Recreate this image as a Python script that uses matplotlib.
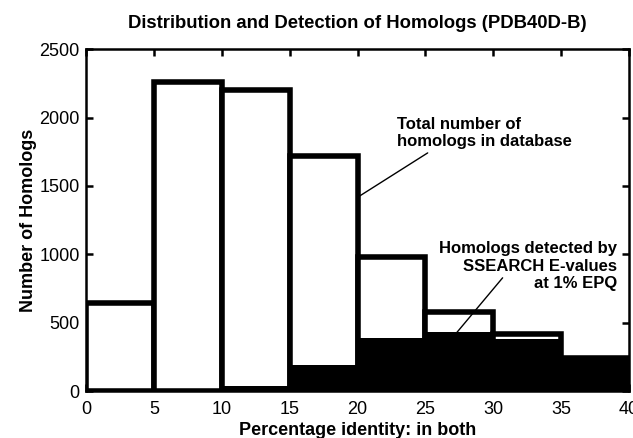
import matplotlib
matplotlib.use("Agg")
import matplotlib.pyplot as plt
import numpy as np

plt.rcParams['font.family'] = ['Liberation Sans', 'DejaVu Sans']

bin_edges = [0, 5, 10, 15, 20, 25, 30, 35]
bin_width = 5
total_homologs = [645, 2260, 2200, 1720, 980, 575, 420, 245]
detected_homologs = [5, 10, 35, 190, 385, 433, 378, 245]
x_ticks = [0, 5, 10, 15, 20, 25, 30, 35, 40]
y_ticks = [0, 500, 1000, 1500, 2000, 2500]

fig = plt.figure(figsize=(6.33, 4.38), dpi=100)
ax = fig.add_axes([86/633, 1-391/438, (629-86)/633, (391-49.3)/438])

ax.bar(bin_edges, total_homologs, width=bin_width, align='edge',
       facecolor='white', edgecolor='black', linewidth=4.0, zorder=2)
ax.bar(bin_edges, detected_homologs, width=bin_width, align='edge',
       facecolor='black', edgecolor='none', linewidth=0, zorder=3)

ax.set_xlim(0, 40)
ax.set_ylim(0, 2500)
ax.set_xticks(x_ticks)
ax.set_yticks(y_ticks)
ax.tick_params(direction='in', length=5, width=1.8, top=True, right=True,
               labelsize=13)
ax.tick_params(axis='x', pad=7)
ax.tick_params(axis='y', pad=4.5)
for s in ax.spines.values():
    s.set_linewidth(1.8)
    s.set_zorder(4)

ax.set_title('Distribution and Detection of Homologs (PDB40D-B)',
             fontsize=13.3, fontweight='bold', pad=15)
ax.set_xlabel('Percentage identity: in both', fontsize=13, fontweight='bold', labelpad=3)
ax.set_ylabel('Number of Homologs', fontsize=13, fontweight='bold', labelpad=1.5)

# Annotation texts
ax.text(22.9, 1886, 'Total number of\nhomologs in database',
        fontsize=12, fontweight='bold', ha='left', va='center', linespacing=1.2, zorder=5)
ax.text(39.1, 914, 'Homologs detected by\nSSEARCH E-values\nat 1% EPQ',
        fontsize=12, fontweight='bold', ha='right', va='center', linespacing=1.2, zorder=5)
# Leader lines
ax.annotate('', xy=(20.13, 1425), xytext=(25.17, 1742),
            arrowprops=dict(arrowstyle='-', color='black', lw=1.0, shrinkA=0, shrinkB=0),
            zorder=5)
ax.annotate('', xy=(26.81, 368), xytext=(30.69, 828),
            arrowprops=dict(arrowstyle='-', color='black', lw=1.0, shrinkA=0, shrinkB=0),
            zorder=5)

fig.savefig('out.png', dpi=100)
